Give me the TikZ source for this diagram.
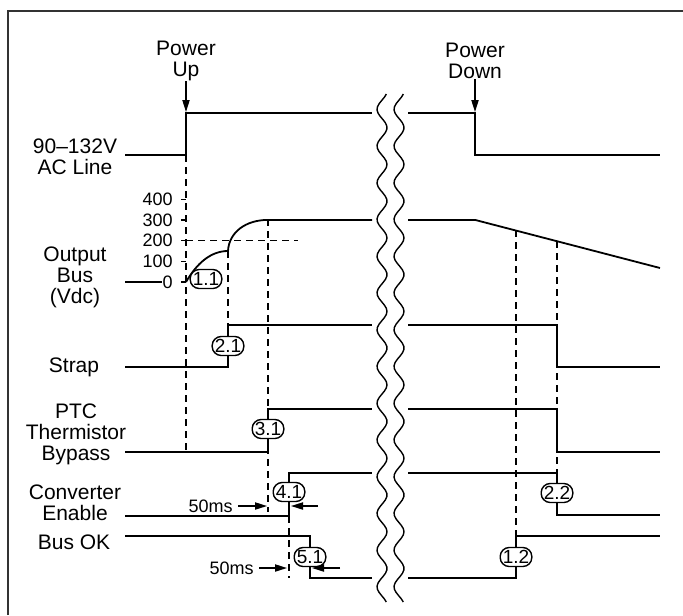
\documentclass[tikz,border=0pt]{standalone}
\usepackage{fontspec}
\setmainfont{Liberation Sans}
\usetikzlibrary{arrows.meta}

\begin{document}
\begin{tikzpicture}[x=0.5pt, y=-0.5pt,
  sig/.style={line width=0.9pt, line join=miter},
  guide/.style={line width=0.7pt, dash pattern=on 3.5pt off 2.5pt},
  lbl/.style={align=center, inner sep=0pt,
              font=\fontsize{10.5}{10.5}\selectfont},
  num/.style={inner sep=0pt, font=\fontsize{9}{10}\selectfont},
  tag/.style={draw, fill=white, line width=0.7pt, rounded corners=4.5pt,
              inner xsep=1.3pt, inner ysep=0.8pt, minimum height=9.5pt,
              font=\fontsize{9.5}{10}\selectfont},
  pointer/.style={line width=0.7pt, -{Triangle[length=6pt, width=3.6pt]}},
  brk/.style={line width=0.7pt},
]
\useasboundingbox (0,0) rectangle (683,615);
\draw[line width=1.1pt, black!80] (8,615) -- (8,11) -- (683,11);

% signal names
\node[lbl] (acl)   at (75,157) {90--132V\\AC Line};
\node[lbl] (bus)   at (75,277) {Output\\Bus\\(Vdc)};
\node[lbl] (strap) at (74,367) {Strap};
\node[lbl] (ptc)   at (76,434) {PTC\\Thermistor\\Bypass};
\node[lbl] (conv)  at (75,503) {Converter\\Enable};
\node[lbl] (busok) at (74,542) {Bus OK};

\node[lbl] (pup)   at (186,61) {Power\\Up};
\node[lbl] (pdown) at (475,61) {Power\\Down};
\coordinate (upedge)   at (186,112);
\coordinate (downedge) at (475,112);
\draw[pointer] (pup) -- (upedge);
\draw[pointer] (pdown) -- (downedge);

% bus voltage scale
\foreach \v/\y in {0/282, 100/261.3, 200/240.6, 300/219.9, 400/199.2} {
  \draw[line width=0.7pt] (181,\y) -- (186,\y);
  \node[num, anchor=east] (v\v) at (173,\y) {\v};
}

% guide lines
\draw[guide] (186,155) -- (186,452);
\draw[guide] (186,240.6) -- (298,240.6);
\draw[guide] (228,251) -- (228,325);
\draw[guide] (268,219) -- (268,512);
\draw[guide] (289,516) -- (289,578);
\draw[guide] (516,230) -- (516,536);
\draw[guide] (557,241) -- (557,515);

% traces before the break
\draw[sig] (125,155) -- (186,155) -- (186,113) -- (372,113);
\draw[sig] (125,282) -- (v0.west);
\draw[sig] (186,282) .. controls (197,263) and (211,251) .. (228,251)
  .. controls (229,232) and (246,219.9) .. (268,219.9) -- (372,219.9);
\draw[sig] (125,367) -- (228,367) -- (228,325) -- (372,325);
\draw[sig] (125,452) -- (268,452) -- (268,409) -- (372,409);
\draw[sig] (125,516) -- (289,516) -- (289,473) -- (372,473);
\draw[sig] (125,536) -- (310,536) -- (310,578) -- (372,578);

% traces after the break
\draw[sig] (408,113) -- (475,113) -- (475,155) -- (660,155);
\draw[sig] (408,219.9) -- (475,219.9) -- (660,268);
\draw[sig] (408,325) -- (557,325) -- (557,367) -- (660,367);
\draw[sig] (408,409) -- (557,409) -- (557,452) -- (660,452);
\draw[sig] (408,473) -- (557,473) -- (557,515) -- (660,515);
\draw[sig] (408,578) -- (516,578) -- (516,536) -- (660,536);

% time break
\foreach \cx in {382,399}
  \draw[brk] plot[domain=94:602, samples=160, smooth]
    ({\cx+5*cos(9.8*(\x-94)+30)}, \x);

% event tags
\node[tag] (t11) at (206,279) {1.1};
\node[tag] (t21) at (228,346) {2.1};
\node[tag] (t31) at (268,429) {3.1};
\node[tag] (t41) at (289,492) {4.1};
\node[tag] (t51) at (310,557) {5.1};
\node[tag] (t12) at (516,557) {1.2};
\node[tag] (t22) at (557,493) {2.2};

% 50ms delays
\node[num, anchor=east] (ms1) at (233,506) {50ms};
\node[num, anchor=east] (ms2) at (254,568) {50ms};
\coordinate (ms1tip) at (267,506);
\coordinate (ms1end) at (318,506);
\coordinate (ms1stop) at (291,506);
\coordinate (ms2tip) at (287,568);
\coordinate (ms2end) at (340,568);
\coordinate (ms2stop) at (312,568);
\draw[pointer, shorten <=2.5pt] (ms1) -- (ms1tip);
\draw[pointer] (ms1end) -- (ms1stop);
\draw[pointer, shorten <=2.5pt] (ms2) -- (ms2tip);
\draw[pointer] (ms2end) -- (ms2stop);
\end{tikzpicture}
\end{document}
